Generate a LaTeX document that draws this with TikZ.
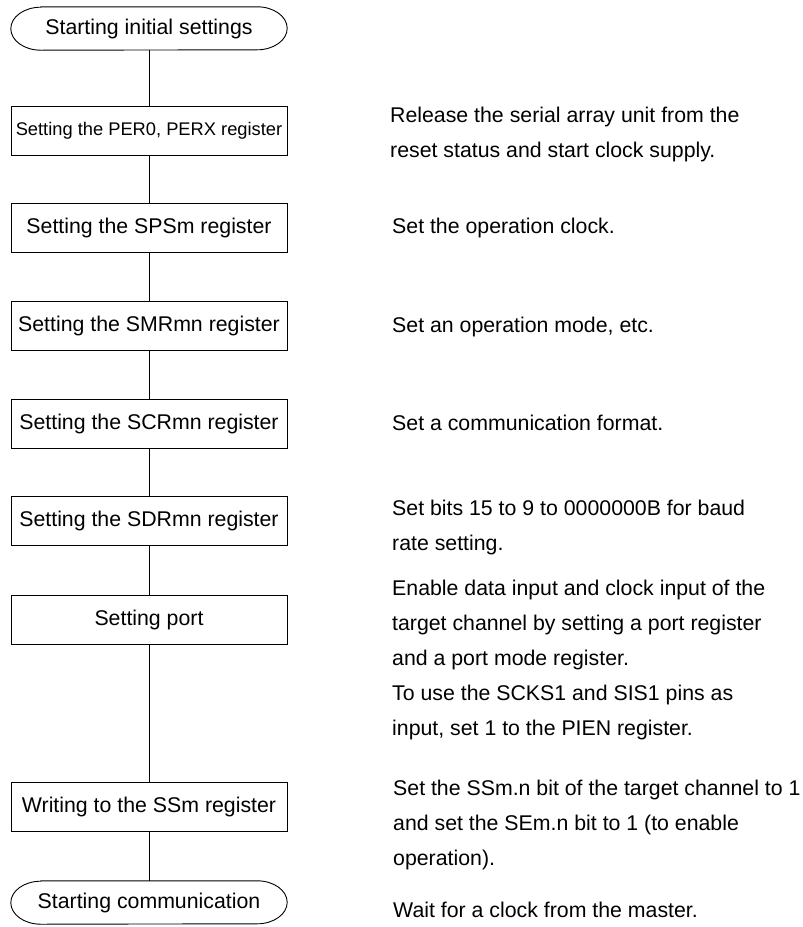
\documentclass[tikz,border=0pt]{standalone}
\usepackage{fontspec}
\setmainfont{Liberation Sans}
\begin{document}
\begin{tikzpicture}[x=1pt,y=-1pt,
  box/.style={draw, line width=0.9pt, minimum width=276pt, minimum height=49pt, inner sep=0pt,
    font=\fontsize{21.3}{25}\selectfont},
  term/.style={minimum width=276pt, minimum height=43pt, inner sep=0pt,
    font=\fontsize{21.3}{25}\selectfont},
  note/.style={anchor=base west, inner sep=0pt, font=\fontsize{21.3}{35}\selectfont},
  conn/.style={line width=0.9pt}]
\useasboundingbox (0,0) rectangle (803,927);

% terminals
\node[term] (start) at (149,28.5) {Starting initial settings};
\node[term] (stop) at (149,902.5) {Starting communication};
\foreach \n in {start,stop}{
  \draw[line width=0.9pt] ([xshift=30pt]\n.north west) -- ([xshift=-30pt]\n.north east)
    arc[start angle=90,end angle=-90,x radius=30pt,y radius=21.5pt]
    -- ([xshift=30pt]\n.south west)
    arc[start angle=270,end angle=90,x radius=30pt,y radius=21.5pt] -- cycle;
}

% process boxes
\node[box, font=\fontsize{18.3}{22}\selectfont] (b1) at (149,130.5) {Setting the PER0, PERX register};
\node[box] (b2) at (149,228) {Setting the SPSm register};
\node[box] (b3) at (149,326) {Setting the SMRmn register};
\node[box] (b4) at (149,423.5) {Setting the SCRmn register};
\node[box] (b5) at (149,521) {Setting the SDRmn register};
\node[box] (b6) at (149,619.5) {Setting port};
\node[box] (b7) at (149,807) {Writing to the SSm register};

% connectors
\draw[conn] (start) -- (b1);
\draw[conn] (b1) -- (b2);
\draw[conn] (b2) -- (b3);
\draw[conn] (b3) -- (b4);
\draw[conn] (b4) -- (b5);
\draw[conn] (b5) -- (b6);
\draw[conn] (b6) -- (b7);
\draw[conn] (b7) -- (stop);

% notes
\node[note] (n1) at (390,122) {\begin{tabular}[t]{@{}l@{}}Release the serial array unit from the\\reset status and start clock supply.\end{tabular}};
\node[note] (n2) at (392,233) {Set the operation clock.};
\node[note] (n3) at (392,332) {Set an operation mode, etc.};
\node[note] (n4) at (392,430) {Set a communication format.};
\node[note] (n5) at (392,515) {\begin{tabular}[t]{@{}l@{}}Set bits 15 to 9 to 0000000B for baud\\rate setting.\end{tabular}};
\node[note] (n6) at (392,595) {\begin{tabular}[t]{@{}l@{}}Enable data input and clock input of the\\target channel by setting a port register\\and a port mode register.\\To use the SCKS1 and SIS1 pins as\\input, set 1 to the PIEN register.\end{tabular}};
\node[note] (n7) at (393,795) {\begin{tabular}[t]{@{}l@{}}Set the SSm.n bit of the target channel to 1\\and set the SEm.n bit to 1 (to enable\\operation).\end{tabular}};
\node[note] (n8) at (393,917) {Wait for a clock from the master.};
\end{tikzpicture}
\end{document}
